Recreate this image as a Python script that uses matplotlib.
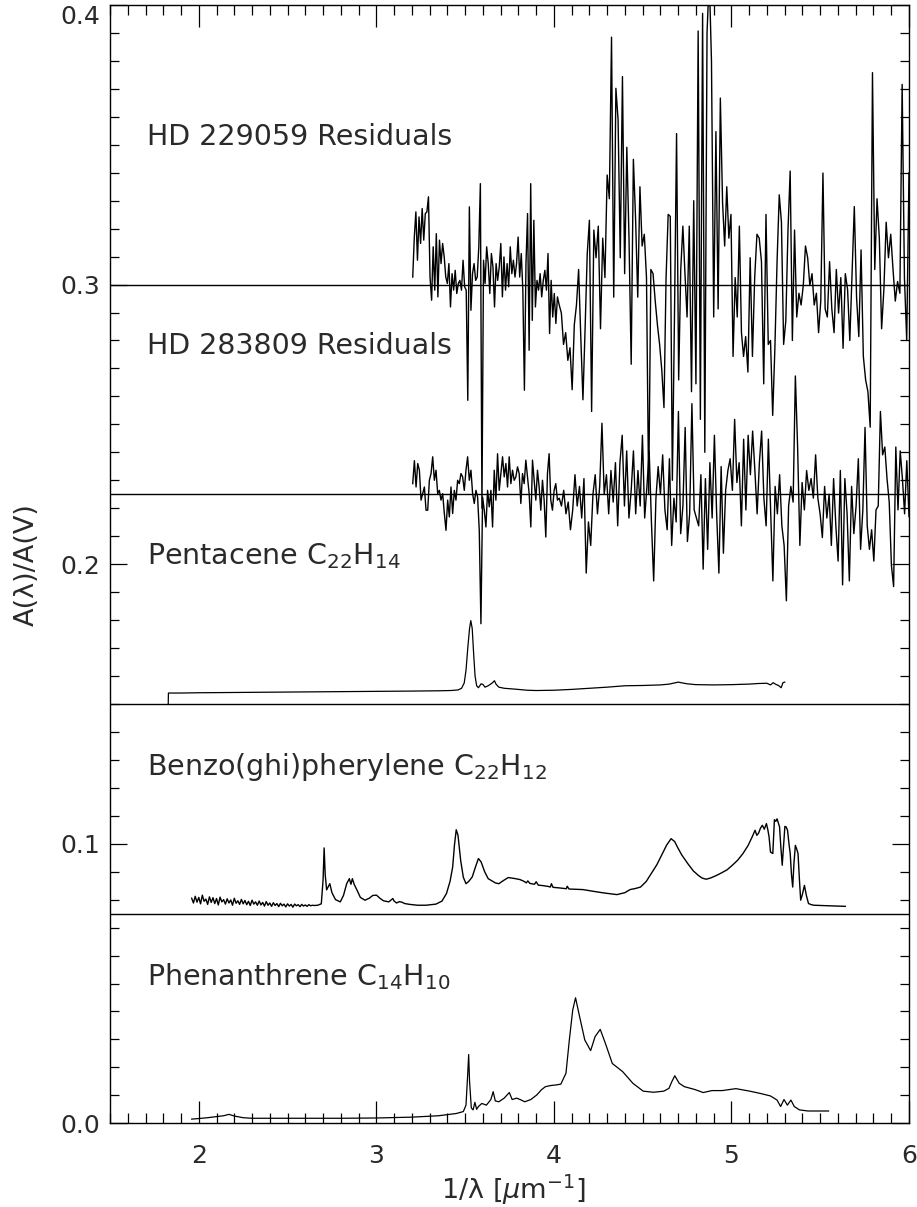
import numpy as np
import matplotlib.pyplot as plt
from matplotlib.ticker import MultipleLocator

# vertical offsets of the stacked curves
offsets = {"phen": 0.0, "benzo": 0.075, "pent": 0.15, "hd283": 0.225, "hd229": 0.3}

labels = ["HD 229059 Residuals", "HD 283809 Residuals",
          "Pentacene C$_{22}$H$_{14}$", "Benzo(ghi)pherylene C$_{22}$H$_{12}$",
          "Phenanthrene C$_{14}$H$_{10}$"]
label_y = [0.350, 0.275, 0.200, 0.1245, 0.0494]

# Phenanthrene (x, A/AV)
phen_pts = [
    (1.96, 0.0015), (2.0, 0.0017), (2.05, 0.0020), (2.1, 0.0024), (2.14, 0.0027),
    (2.17, 0.0032), (2.2, 0.0026), (2.25, 0.0020), (2.3, 0.0018), (2.4, 0.0018),
    (2.6, 0.0018), (2.8, 0.0018), (3.0, 0.0019), (3.2, 0.0022), (3.35, 0.0027),
    (3.45, 0.0035), (3.49, 0.0042), (3.505, 0.0065), (3.515, 0.0180), (3.520, 0.0246),
    (3.525, 0.0150), (3.535, 0.0055), (3.545, 0.0048), (3.555, 0.0075), (3.565, 0.0050),
    (3.575, 0.0060), (3.594, 0.0071), (3.62, 0.0065), (3.645, 0.0085), (3.658, 0.0113),
    (3.67, 0.0080), (3.69, 0.0077), (3.72, 0.0090), (3.749, 0.0110), (3.765, 0.0085),
    (3.79, 0.0090), (3.81, 0.0085), (3.836, 0.0077), (3.87, 0.0085), (3.903, 0.0101),
    (3.93, 0.0120), (3.952, 0.0131), (3.981, 0.0135), (4.01, 0.0137), (4.039, 0.0140),
    (4.068, 0.0179), (4.087, 0.0298), (4.106, 0.0405), (4.122, 0.0449), (4.145, 0.0381),
    (4.174, 0.0298), (4.207, 0.0260), (4.232, 0.0310), (4.261, 0.0336), (4.29, 0.0286),
    (4.329, 0.0214), (4.387, 0.0185), (4.445, 0.0143), (4.503, 0.0115), (4.561, 0.0111),
    (4.619, 0.0115), (4.648, 0.0125), (4.665, 0.0150), (4.681, 0.0170), (4.706, 0.0143),
    (4.735, 0.0131), (4.793, 0.0121), (4.841, 0.0110), (4.89, 0.0117), (4.948, 0.0117),
    (5.025, 0.0124), (5.103, 0.0115), (5.161, 0.0107), (5.219, 0.0098), (5.24, 0.0090),
    (5.257, 0.0083), (5.277, 0.0060), (5.296, 0.0085), (5.315, 0.0065), (5.335, 0.0083),
    (5.354, 0.0060), (5.383, 0.0048), (5.431, 0.0044), (5.49, 0.0044), (5.547, 0.0044),
]

# Benzo(ghi)perylene: noisy start (1.96-2.65), then features; values in 1e-3 above offset
benzo_noise = [
    5.5, 3.8, 6.2, 4.1, 5.8, 3.5, 6.6, 4.4, 5.2, 3.3, 6.0, 4.0, 5.7, 3.6, 5.4, 3.1, 5.9, 4.2,
    5.0, 3.4, 5.3, 3.8, 4.9, 3.0, 5.5, 3.7, 4.6, 3.3, 5.1, 3.5, 4.7, 3.2, 4.4, 2.9, 4.8, 3.4,
    4.2, 3.0, 4.5, 3.1, 4.0, 2.7, 4.3, 3.0, 3.8, 2.6, 3.9, 2.9, 3.6, 2.5, 3.7, 2.8, 3.4, 2.4,
    3.5, 2.7, 3.3, 2.3, 3.4, 2.8, 3.2, 2.5, 3.3, 2.7, 3.1, 2.6, 3.2, 2.8, 3.0, 2.9,
]
benzo_pts = [
    (2.67, 3.0), (2.69, 3.5), (2.700, 12.0), (2.706, 23.5), (2.712, 14.0), (2.72, 8.5),
    (2.738, 10.7), (2.75, 7.5), (2.77, 5.0), (2.797, 4.2), (2.815, 6.5), (2.833, 10.7),
    (2.848, 12.5), (2.857, 10.5), (2.865, 12.5), (2.875, 10.5), (2.892, 8.3), (2.91, 5.8),
    (2.936, 4.8), (2.96, 5.5), (2.98, 6.5), (3.001, 6.6), (3.02, 5.5), (3.04, 4.6),
    (3.07, 4.2), (3.093, 5.4), (3.10, 4.5), (3.114, 3.8), (3.13, 4.3), (3.143, 4.1),
    (3.16, 3.6), (3.188, 3.3), (3.232, 3.0), (3.28, 3.0), (3.336, 3.4), (3.37, 4.5),
    (3.395, 7.2), (3.415, 11.5), (3.43, 16.7), (3.44, 24.5), (3.45, 30.0), (3.46, 28.0),
    (3.475, 19.0), (3.49, 13.0), (3.505, 10.7), (3.52, 11.5), (3.54, 13.1), (3.56, 17.0),
    (3.575, 19.7), (3.59, 18.5), (3.61, 15.0), (3.63, 12.5), (3.646, 11.9), (3.67, 11.0),
    (3.69, 10.7), (3.715, 11.8), (3.743, 12.9), (3.775, 12.6), (3.808, 12.2), (3.83, 11.6),
    (3.845, 11.0), (3.853, 11.7), (3.865, 10.8), (3.891, 10.5), (3.90, 11.4), (3.912, 10.2),
    (3.94, 10.0), (3.97, 9.7), (3.98, 9.5), (3.986, 10.7), (3.995, 9.4), (4.03, 9.2),
    (4.07, 8.9), (4.075, 9.8), (4.085, 8.8), (4.12, 8.7), (4.163, 8.6), (4.22, 8.0),
    (4.281, 7.4), (4.355, 6.8), (4.40, 7.5), (4.429, 8.6), (4.46, 9.0), (4.488, 9.5),
    (4.52, 11.5), (4.548, 14.3), (4.58, 17.5), (4.607, 20.9), (4.635, 24.5), (4.66, 26.8),
    (4.68, 25.8), (4.695, 23.9), (4.72, 21.0), (4.754, 17.9), (4.785, 15.3), (4.813, 13.7),
    (4.835, 12.7), (4.858, 12.3), (4.885, 12.8), (4.917, 13.7), (4.945, 14.6), (4.976, 15.7),
    (5.005, 17.3), (5.035, 19.1), (5.065, 21.5), (5.094, 24.4), (5.115, 27.2), (5.133, 29.8),
    (5.143, 28.0), (5.153, 28.8), (5.163, 30.5), (5.174, 31.6), (5.185, 30.2), (5.197, 32.2),
    (5.205, 30.0), (5.212, 27.4), (5.22, 22.0), (5.233, 21.5), (5.242, 33.6), (5.25, 33.0),
    (5.257, 33.9), (5.264, 32.5), (5.271, 31.0), (5.278, 24.0), (5.286, 17.3), (5.294, 25.0),
    (5.301, 31.2), (5.308, 31.0), (5.316, 29.8), (5.324, 25.0), (5.331, 21.5), (5.338, 14.0),
    (5.345, 9.5), (5.352, 18.0), (5.36, 24.4), (5.368, 23.0), (5.375, 21.5), (5.383, 12.0),
    (5.39, 4.8), (5.40, 7.0), (5.411, 10.1), (5.422, 6.5), (5.434, 3.6), (5.45, 3.2),
    (5.464, 3.0), (5.5, 2.9), (5.55, 2.8), (5.6, 2.7), (5.641, 2.6),
]

# Pentacene, values in 1e-3 above offset
pent_pts = [
    (1.828, 0.0), (1.829, 3.9), (1.9, 3.9), (2.0, 4.0), (2.2, 4.1), (2.4, 4.2), (2.6, 4.3),
    (2.8, 4.4), (3.0, 4.5), (3.2, 4.6), (3.35, 4.7), (3.42, 4.8), (3.46, 5.0), (3.48, 5.6),
    (3.495, 7.5), (3.505, 12.0), (3.515, 20.0), (3.525, 27.0), (3.532, 29.8), (3.54, 27.0),
    (3.548, 18.0), (3.556, 10.0), (3.565, 6.5), (3.575, 5.8), (3.59, 7.2), (3.60, 7.0),
    (3.612, 6.0), (3.63, 6.5), (3.655, 7.6), (3.665, 8.3), (3.675, 7.0), (3.69, 6.0),
    (3.72, 5.6), (3.78, 5.3), (3.85, 4.9), (3.9, 4.8), (4.0, 4.9), (4.1, 5.2), (4.2, 5.6),
    (4.3, 6.0), (4.4, 6.5), (4.5, 6.6), (4.6, 6.8), (4.65, 7.1), (4.7, 7.8), (4.75, 7.2),
    (4.8, 6.9), (4.9, 6.8), (5.0, 6.9), (5.1, 7.1), (5.15, 7.3), (5.2, 7.4), (5.22, 6.8),
    (5.235, 7.6), (5.25, 7.0), (5.265, 6.6), (5.28, 5.8), (5.29, 7.6), (5.3, 7.8),
]

# HD 229059 residuals, 1e-3 about offset
hd229_left = [
    2.7, 17.0, 26.0, 8.7, 24.2, 14.7, 27.2, 15.9, 25.4, 26.0, 31.4, 2.7, -5.6, 13.5, -2.0,
    18.2, -4.4, 15.9, 7.5, 14.7, 9.9, 2.7, 0.4, 7.5, -8.0, 3.9, -2.0, 5.1, -3.2, 0.4, 1.5,
    -2.0, 8.7, -0.8, -2.0, -41.4, 27.8, -9.2, 3.9, 7.5, 1.5, 2.7, 13.5, 36.1, -80.0,
    8.7, 0.4, 13.5, 7.5, -3.2, 11.1, 6.3, -8.0, 7.5, 1.5, 6.3, 14.7, -4.4, 9.9, -2.0, 7.5,
    -0.8, 13.5, 3.9, 8.7, 2.7, 7.5, 17.0, 2.7, 11.1, -2.0, -37.8,
    7.5, 25.4, -23.5, 36.1, -12.8, 23.0, -8.0,
    1.5, -2.0, 3.9, -4.4, 1.5, 5.1, -2.0, 11.1, -17.5, 1.5, -11.6, -3.2, -13.9, -4.4,
]
hd229_edges = [4.03, 4.20, 4.30, 4.46, 4.62, 4.75, 4.95, 5.08, 5.22, 5.38, 5.54, 5.73, 6.0]
hd229_right = [
    [-7.3, -10.2, -21.4, -17.2, -27.1, -22.6, -37.6, -14.4, -7.3, 5.4, -18.6, -41.2, -15.8, 11.0],
    [23.0, -45.4, 19.5, 9.6, 20.9, -15.8, 16.6, 2.5],
    [39.2, 30.7, 88.5, -4.5, 70.2, 58.9, 9.6, 74.4, 3.9, 49.1, 16.6, -28.5, 44.8],
    [23.7, -4.5, 35.0, 13.8, 18.0, 2.5, -75.0, 5.4, 3.9, -5.9, -14.4, -21.4, -30.6],
    [-44.0, 2.5, 25.1, 24.4, -70.0, -11.6, 54.0, -34.1, 5.4, 20.9, 3.9],
    [-11.6, 20.9, -38.3, 30.0, -35.5, 90.7, -48.2, 97.0, -60.0, 90.0, 110.0, 80.1, -11.6, 54.7, -8.7, 66.7],
    [29.3, 13.8, 35.0, 16.6, 25.1, -25.7, 2.5, -11.6, 20.9, -17.2, -25.7],
    [-18.6, -31.3, 9.6, -25.7, 2.5, 18.0, 16.6, 8.2, -35.5, 25.1, -21.4],
    [-20.0, -46.8, -22.8, 8.2, 32.1, 22.3, -21.4, -13.0, 19.5, 40.6, -20.0, 19.5, -11.6],
    [-3.1, -7.3, -0.3, 13.8, 9.6, -0.3, 3.9, -7.3, -3.1, -17.2, -5.9, 39.9, -8.7],
    [-11.6, 8.2, -8.7, -17.2, 5.4, -10.2, 2.5, -22.8, 3.9, -1.7, -20.0, 3.9, 27.9, -4.5, -18.6],
    [12.4, -25.7, -34.1, -38.3, -51.0, 75.8, 5.4, 30.7, 16.6, -15.8, -1.7, 22.3, 9.6, 18.0,
     5.4, -5.9, 1.1, -3.1, 71.6, 2.5, -20.0, 40.0],
]

# HD 283809 residuals, 1e-3 about offset
hd283_left = [
    3.8, 12.0, 2.6, 11.0, 8.6, -2.1, 0.2, 2.6, -5.7, -5.7, 5.0, 7.4, 13.4, 5.0, 8.6, 0.2,
    1.4, -2.1, 0.2, -6.9, -12.9, -2.1, -8.1, 2.6, -6.9, 1.4, -2.1, 5.0, 3.8, 7.4, 6.2, 1.4,
    8.6, 13.4, 5.0, 8.6, 0.2, -3.3, 1.4, -1.0, -12.9, -46.3, -1.0, -5.7, -11.7, 1.4, -4.5,
    1.4, -11.7, 8.6, -2.1, 14.5,
    1.4, 7.4, 13.4, 6.2, 11.0, 2.6, 13.4, 3.8, 8.6, 5.0, 6.2, 9.8, 7.4, -3.3, 7.4, 3.8,
    12.2, 6.2, 0.2, -11.7, 12.2, 5.0, -2.1, 8.6, 2.6, -5.7, 5.0, -2.1, -15.3, 7.4, 14.5,
    -2.1, -5.7, 1.4, 3.8, -2.1,
]
hd283_edges = [4.03, 4.22, 4.41, 4.60, 4.79, 4.98, 5.17, 5.36, 5.55, 5.74, 6.0]
hd283_right = [
    [-1.4, -4.2, 1.4, -7.0, -2.8, -12.7, -5.6, 7.0, -4.2, 2.8, -8.5, 5.6, -28.2, -9.9, -18.3],
    [0.0, 7.0, -7.0, 2.8, 25.4, 0.0, 7.0, -7.0, 8.5, -2.8, 11.3, -11.3, 11.3, 21.1, -4.2],
    [15.5, -8.5, 1.4, 15.5, -7.0, 8.5, -4.2, 21.1, -8.5, 2.8, 15.5, -9.9, -31.0, -1.4, 9.9],
    [0.0, 14.1, -5.6, -12.7, 12.7, -18.3, -1.4, -9.9, 29.6, -14.1, -4.2, 23.9, -16.9, -7.0, 32.4],
    [-5.6, -8.5, -11.3, 7.0, -26.8, 5.6, -19.7, 11.3, -8.5, 21.1, -7.0, -28.2, 9.9, -21.1, 1.4],
    [8.5, 12.7, 1.4, 26.8, 4.2, 11.3, -11.3, 19.7, -5.6, 21.1, 7.0, 22.6, 8.5, -7.0, 11.3],
    [22.6, -1.4, -11.3, 19.7, -5.6, -31.0, 2.8, -7.0, 7.0, -11.3, -18.3, -38.1, -4.2, 2.8, -2.8],
    [42.3, 16.9, -18.3, 4.2, -5.6, 8.5, 1.4, 5.6, -1.4, 14.1, -1.4, -7.0, -15.5, 2.8, -8.5],
    [0.0, -18.3, 5.6, -11.3, -23.9, 8.5, -32.4, 5.6, -7.0, -31.0, 2.8, -14.1, -4.2, 12.7, -19.7],
    [-5.6, 23.9, -11.3, -19.7, -12.7, -23.9, -5.6, -4.2, 29.6, 14.1, 16.9, 5.6, -2.8, -25.4,
     -33.0, 16.9, -5.6, 15.5, 5.6, -7.0, 12.0, -8.0],
]


def residual_curve(left, edges, right, offset):
    xs = [np.linspace(3.205, 4.02, len(left))]
    ys = [np.array(left)]
    for i, seg in enumerate(right):
        xs.append(np.linspace(edges[i], edges[i + 1], len(seg), endpoint=(i == len(right) - 1)))
        ys.append(np.array(seg))
    return np.concatenate(xs), offset + np.concatenate(ys) / 1000.0


TXT = '#2a2a2a'
plt.rcParams['font.family'] = ['DejaVu Sans']
plt.rcParams['mathtext.fontset'] = 'dejavusans'

fig = plt.figure(figsize=(9.17, 12.07), dpi=100)
ax = fig.add_axes([110 / 917, (1207 - 1123.3) / 1207, 799 / 917, 1118.3 / 1207])

for v in [0.075, 0.15, 0.225, 0.3]:
    ax.axhline(v, color='black', lw=1.0)

px, py = zip(*phen_pts)
ax.plot(px, np.array(py) + offsets["phen"], color='black', lw=0.9)

bx = np.concatenate([np.linspace(1.96, 2.65, len(benzo_noise)), [p[0] for p in benzo_pts]])
by = np.concatenate([benzo_noise, [p[1] for p in benzo_pts]]) / 1000.0 + offsets["benzo"]
ax.plot(bx, by, color='black', lw=1.0)

tx, ty = zip(*pent_pts)
ax.plot(tx, np.array(ty) / 1000.0 + offsets["pent"], color='black', lw=0.9)

x1, y1 = residual_curve(hd283_left, hd283_edges, hd283_right, offsets["hd283"])
ax.plot(x1, y1, color='black', lw=1.0)
x2, y2 = residual_curve(hd229_left, hd229_edges, hd229_right, offsets["hd229"])
ax.plot(x2, y2, color='black', lw=1.0)

for lab, yy in zip(labels, label_y):
    ax.text(1.708, yy, lab, fontsize=20.5, color=TXT, ha='left', va='baseline')

ax.set_xlim(1.5, 6.0)
ax.set_ylim(0.0, 0.4)
ax.xaxis.set_minor_locator(MultipleLocator(0.1))
ax.yaxis.set_minor_locator(MultipleLocator(0.01))
ax.set_xticks([2, 3, 4, 5, 6])
ax.set_xticklabels(['2', '3', '4', '5', '6'])
ax.set_yticks([0.0, 0.1, 0.2, 0.3, 0.4])
ax.set_yticklabels(['0.0', '0.1', '0.2', '0.3', '0.4'])

ax.tick_params(which='both', direction='in', top=True, right=True, colors='black',
               labelcolor=TXT, labelsize=18, width=0.9)
ax.tick_params(axis='x', which='major', length=16, pad=15)
ax.tick_params(axis='x', which='minor', length=7)
ax.tick_params(axis='y', which='major', length=12, pad=7)
ax.tick_params(axis='y', which='minor', length=6.5)
for s in ax.spines.values():
    s.set_linewidth(1.0)
# the top label sits just below the frame edge, as in the original
ax.get_yticklabels()[-1].set_verticalalignment('top')

ax.set_xlabel(r'1/λ [$\mu$m$^{-1}$]', fontsize=19.5, color=TXT)
ax.set_ylabel('A(λ)/A(V)', fontsize=19.5, color=TXT)
ax.xaxis.set_label_coords(0.505, -0.044)
ax.yaxis.set_label_coords(-0.088, 0.5)

fig.savefig('out.png', dpi=100)
